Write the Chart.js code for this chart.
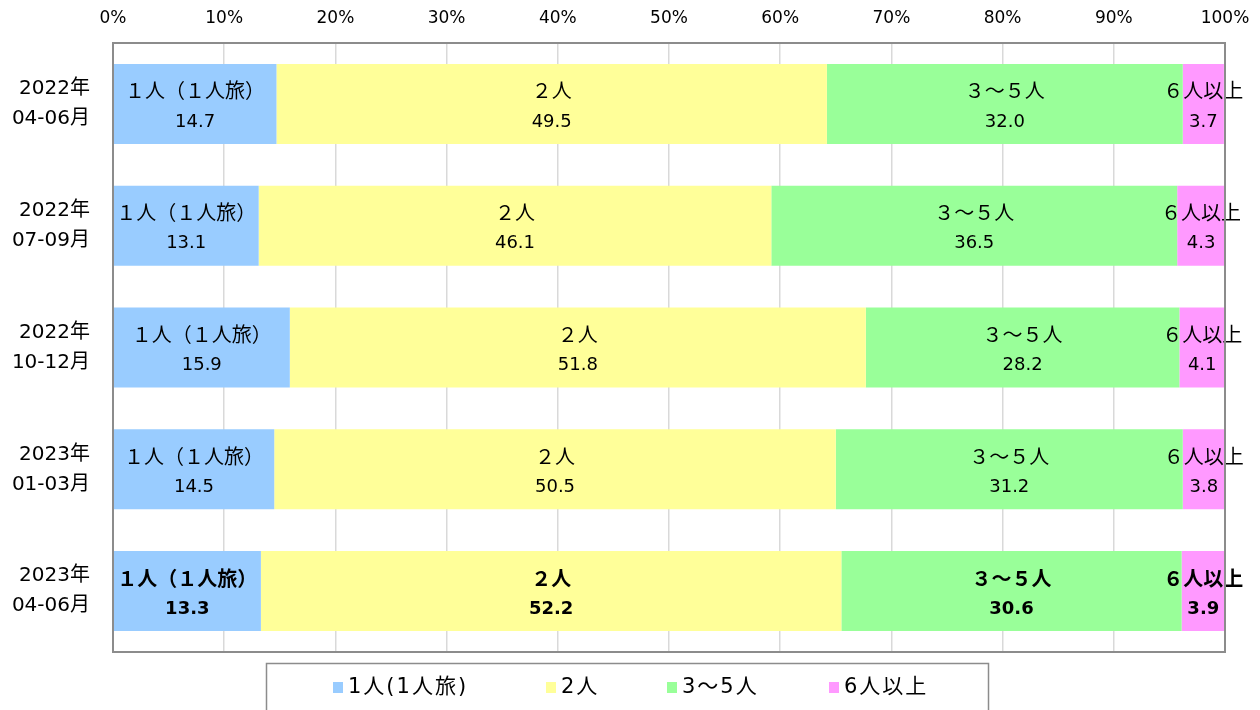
<!DOCTYPE html>
<html>
<head>
<meta charset="utf-8">
<script src="https://cdn.jsdelivr.net/npm/chart.js@4"></script>
<style>
  html, body { margin: 0; padding: 0; background: #fff; }
  #wrap { width: 1260px; height: 710px; }
</style>
</head>
<body>
<div id="wrap"><canvas id="chart" width="1260" height="710"></canvas></div>
<script>
const periodos = [
  ["2022年", "04-06月"],
  ["2022年", "07-09月"],
  ["2022年", "10-12月"],
  ["2023年", "01-03月"],
  ["2023年", "04-06月"]
];
const nombresSerie = ["1人(1人旅)", "2人", "3～5人", "6人以上"];
const etiquetasDentro = ["１人（１人旅）", "２人", "３～５人", "６人以上"];
const colores = ["#99ccff", "#ffff99", "#99ff99", "#ff99ff"];

const unaPersona = [14.7, 13.1, 15.9, 14.5, 13.3];
const dosPersonas = [49.5, 46.1, 51.8, 50.5, 52.2];
const tresCinco = [32.0, 36.5, 28.2, 31.2, 30.6];
const seisMas = [3.7, 4.3, 4.1, 3.8, 3.9];

const ticksX = [0, 10, 20, 30, 40, 50, 60, 70, 80, 90, 100];

const FUENTE_CJK = "'Noto Sans CJK JP', sans-serif";
const FUENTE = "'DejaVu Sans', 'Noto Sans CJK JP', sans-serif";

// etiquetas de cada segmento (nombre + valor)
const pluginEtiquetas = {
  id: "etiquetas",
  afterDatasetsDraw(chart) {
    const ctx = chart.ctx;
    ctx.save();
    ctx.textAlign = "center";
    ctx.textBaseline = "middle";
    ctx.fillStyle = "#000";
    chart.data.datasets.forEach((ds, i) => {
      const meta = chart.getDatasetMeta(i);
      meta.data.forEach((bar, j) => {
        const negrita = j === periodos.length - 1 ? "bold " : "";
        const x = (bar.x + bar.base) / 2;
        ctx.font = negrita + "20px " + FUENTE_CJK;
        ctx.fillText(etiquetasDentro[i], x, bar.y - 13);
        ctx.font = negrita + "18px " + FUENTE;
        ctx.fillText(ds.data[j].toFixed(1), x, bar.y + 18);
      });
    });
    ctx.restore();
  }
};

// borde del area y leyenda con recuadro
const pluginMarco = {
  id: "marco",
  afterDraw(chart) {
    const ctx = chart.ctx;
    const a = chart.chartArea;
    ctx.save();
    ctx.strokeStyle = "#8c8c8c";
    ctx.lineWidth = 2;
    ctx.strokeRect(a.left, a.top, a.right - a.left, a.bottom - a.top);

    ctx.lineWidth = 1.5;
    ctx.strokeRect(266.5, 663.5, 722, 60);

    const posiciones = [333, 546, 667, 829];
    ctx.font = "21px " + FUENTE;
    ctx.letterSpacing = "2px";
    ctx.textBaseline = "middle";
    ctx.textAlign = "left";
    nombresSerie.forEach((n, i) => {
      ctx.fillStyle = colores[i];
      ctx.fillRect(posiciones[i], 682, 10, 11);
      ctx.fillStyle = "#000";
      ctx.fillText(n, posiciones[i] + 15, 688);
    });
    ctx.restore();
  }
};

new Chart(document.getElementById("chart"), {
  type: "bar",
  data: {
    labels: periodos,
    datasets: [
      { label: nombresSerie[0], data: unaPersona, backgroundColor: colores[0] },
      { label: nombresSerie[1], data: dosPersonas, backgroundColor: colores[1] },
      { label: nombresSerie[2], data: tresCinco, backgroundColor: colores[2] },
      { label: nombresSerie[3], data: seisMas, backgroundColor: colores[3] }
    ]
  },
  options: {
    indexAxis: "y",
    responsive: false,
    animation: false,
    layout: { padding: { top: 9, right: 35, bottom: 58, left: 0 } },
    datasets: {
      bar: { categoryPercentage: 0.657, barPercentage: 1.0, borderWidth: 0 }
    },
    scales: {
      x: {
        position: "top",
        stacked: true,
        min: 0,
        max: 100,
        afterBuildTicks(scale) {
          scale.ticks = ticksX.map(v => ({ value: v }));
        },
        afterFit(scale) {
          scale.height = 34;
          scale.paddingLeft = 0;
          scale.paddingRight = 0;
        },
        grid: { color: "#d9d9d9", lineWidth: 1.5, drawTicks: false },
        border: { display: false },
        ticks: {
          padding: 14,
          color: "#000",
          font: { family: FUENTE, size: 17 },
          callback: v => v + "%"
        }
      },
      y: {
        stacked: true,
        grid: { display: false, drawTicks: false },
        border: { display: false },
        afterFit(scale) {
          scale.width = 113;
          scale.paddingTop = 0;
          scale.paddingBottom = 0;
        },
        ticks: {
          padding: 23,
          color: "#000",
          font: { family: FUENTE, size: 20, lineHeight: 1.5 }
        }
      }
    },
    plugins: {
      legend: { display: false },
      tooltip: { enabled: false }
    }
  },
  plugins: [pluginEtiquetas, pluginMarco]
});
</script>
</body>
</html>
